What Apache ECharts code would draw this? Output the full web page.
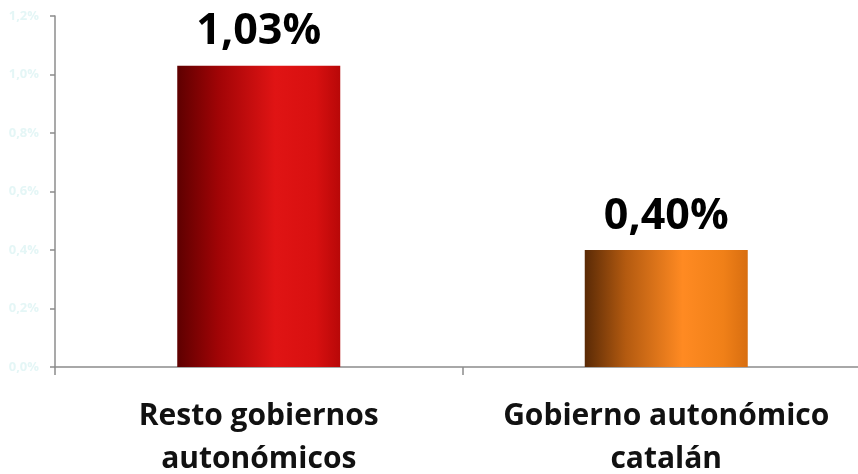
<!DOCTYPE html>
<html>
<head>
<meta charset="utf-8">
<script src="https://cdn.jsdelivr.net/npm/echarts@6/dist/echarts.min.js"></script>
<style>
html,body{margin:0;padding:0;background:#fff;}
#c{width:858px;height:474px;}
</style>
</head>
<body>
<div id="c"></div>
<script>
const categories = ['Resto gobiernos\nautonómicos', 'Gobierno autonómico\ncatalán'];
const values = [1.03, 0.40];
const valueLabels = ['1,03%', '0,40%'];
const yMin = 0, yMax = 1.2, yStep = 0.2;

const gradients = [
  [[0,'#5e0000'],[0.25,'#a00406'],[0.6,'#e01414'],[0.85,'#d81010'],[1,'#b80808']],
  [[0,'#5a2a06'],[0.25,'#b35a10'],[0.6,'#ff8a22'],[0.85,'#f08018'],[1,'#d86e10']]
];

function grad(stops){
  return new echarts.graphic.LinearGradient(0,0,1,0, stops.map(s=>({offset:s[0], color:s[1]})));
}

const chart = echarts.init(document.getElementById('c'));
chart.setOption({
  animation:false,
  backgroundColor:'#ffffff',
  grid:{left:55, right:-12, top:16, bottom:107, containLabel:false, outerBoundsMode:'none'},
  xAxis:{
    type:'category',
    data:categories,
    axisLine:{lineStyle:{color:'#8c8c8c', width:1.5}},
    axisTick:{show:true, length:8, lineStyle:{color:'#8c8c8c', width:1.5}},
    axisLabel:{margin:28, fontFamily:'Open Sans', fontWeight:'bold', fontSize:30, color:'#111', lineHeight:43, interval:0}
  },
  yAxis:{
    type:'value', min:yMin, max:yMax, interval:yStep,
    splitLine:{show:false},
    axisLine:{show:true, lineStyle:{color:'#8c8c8c', width:1.5}},
    axisTick:{show:true, length:5, lineStyle:{color:'#8c8c8c', width:1.5}},
    axisLabel:{margin:16, fontFamily:'Open Sans', fontWeight:'bold', fontSize:13, color:'#e4f6f6',
      formatter:v=>v.toFixed(1).replace('.',',')+'%'}
  },
  series:[{
    type:'bar',
    barWidth:'40%',
    data:values.map((v,i)=>({value:v, itemStyle:{color:grad(gradients[i])}})),
    label:{show:true, position:'top', distance:12, fontFamily:'Open Sans', fontWeight:'bold', fontSize:43, color:'#000',
      formatter:p=>valueLabels[p.dataIndex]}
  }]
});
</script>
</body>
</html>
